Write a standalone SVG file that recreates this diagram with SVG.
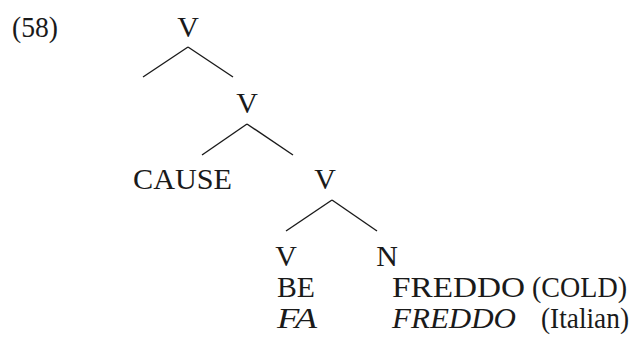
<svg xmlns="http://www.w3.org/2000/svg" width="637" height="342" viewBox="0 0 637 342">
<style>
text{font-family:'Liberation Serif','Times New Roman',serif;font-size:30px;fill:#1a1a1a}
.m{text-anchor:middle}
.i{font-style:italic}
line{stroke:#1a1a1a;stroke-width:1.4}
</style>
<rect width="637" height="342" fill="#fff"/>
<text id="ex" x="12" y="37" textLength="46" lengthAdjust="spacingAndGlyphs">(58)</text>
<g id="n1"><text class="m" x="188" y="37">V</text></g>
<g id="n2"><text class="m" x="247" y="113">V</text></g>
<g id="n3"><text x="133" y="189" textLength="99" lengthAdjust="spacingAndGlyphs">CAUSE</text></g>
<g id="n4"><text class="m" x="325" y="189">V</text></g>
<g id="n5"><text class="m" x="286" y="266">V</text><text x="277" y="297" textLength="38" lengthAdjust="spacingAndGlyphs">BE</text><text class="i" x="277" y="328" textLength="40" lengthAdjust="spacingAndGlyphs">FA</text></g>
<g id="n6"><text class="m" x="387" y="266">N</text><text x="392" y="297" textLength="133" lengthAdjust="spacingAndGlyphs">FREDDO</text><text x="532" y="297" textLength="95" lengthAdjust="spacingAndGlyphs">(COLD)</text><text class="i" x="392" y="328" textLength="124" lengthAdjust="spacingAndGlyphs">FREDDO</text><text x="541" y="328" textLength="88" lengthAdjust="spacingAndGlyphs">(Italian)</text></g>
<g id="edges">
<line x1="188" y1="47" x2="143" y2="77"/>
<line x1="188" y1="47" x2="233" y2="77"/>
<line x1="247" y1="124" x2="202" y2="155"/>
<line x1="247" y1="124" x2="293" y2="155"/>
<line x1="332" y1="200" x2="286" y2="231"/>
<line x1="332" y1="200" x2="377" y2="231"/>
</g>
</svg>
